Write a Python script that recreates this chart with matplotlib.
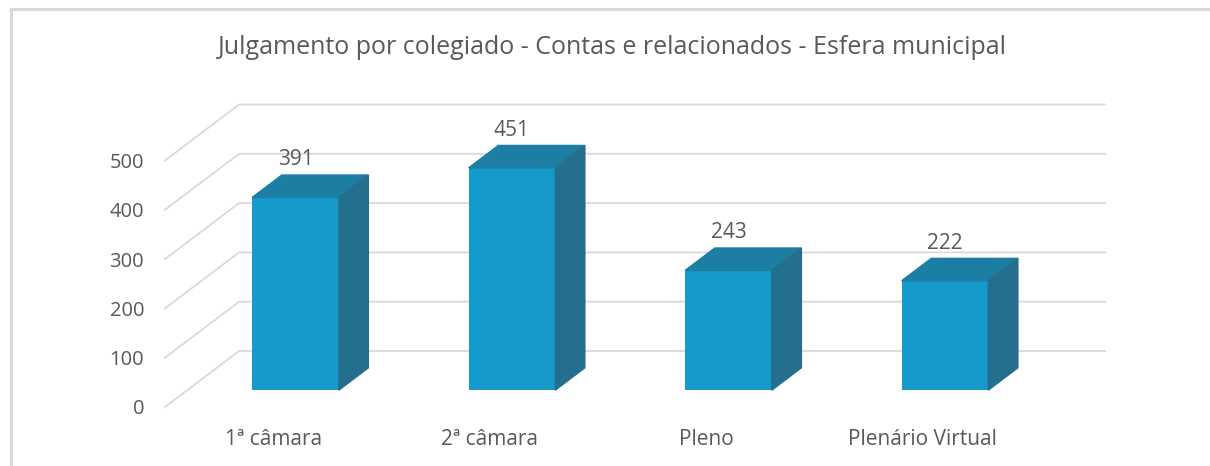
import matplotlib.pyplot as plt
from matplotlib.patches import Polygon
from matplotlib.lines import Line2D

plt.rcParams['font.family'] = ['Open Sans', 'DejaVu Sans']

categorias = ['1ª câmara', '2ª câmara', 'Pleno', 'Plenário Virtual']
valores = [391, 451, 243, 222]
yticks = [0, 100, 200, 300, 400, 500]
titulo = 'Julgamento por colegiado - Contas e relacionados - Esfera municipal'

cor_frente = '#1699cb'
cor_topo = '#1c7ea2'
cor_lado = '#246f8e'
cor_grade = '#d9d9d9'
cor_texto = '#595959'

# oblique projection: full depth of the floor in data units
DX = 0.342   # categories
DY = 113.6   # value units
d0, d1 = 0.3, 0.7   # bar depth range
larg = 0.4

W, H = 1210, 466
fig = plt.figure(figsize=(W / 100, H / 100), dpi=100)
ax = fig.add_axes([165 / W, 59 / H, 866 / W, 246.5 / H])
ax.set_xlim(0, len(categorias))
ax.set_ylim(0, 500)
for s in ax.spines.values():
    s.set_visible(False)

# side wall + back wall gridlines
for v in yticks:
    ax.plot([0, DX, len(categorias) + DX], [v, v + DY, v + DY],
            color=cor_grade, lw=1.3, clip_on=False, zorder=1)

ax.set_yticks(yticks)
ax.set_xticks([i + 0.5 for i in range(len(categorias))])
ax.set_xticklabels(categorias)
ax.tick_params(axis='y', length=0, pad=15, labelsize=14.5, labelcolor=cor_texto)
ax.tick_params(axis='x', length=0, pad=16, labelsize=15, labelcolor=cor_texto)

base = d0 * DY
ddx = (d1 - d0) * DX
ddy = (d1 - d0) * DY
xs = [i + 0.5 + d0 * DX for i in range(len(categorias))]

ax.bar(xs, valores, width=larg, bottom=base, color=cor_frente,
       clip_on=False, zorder=3)

for x, v in zip(xs, valores):
    xl, xr = x - larg / 2, x + larg / 2
    topo = v + base
    ax.add_patch(Polygon([(xl, topo), (xr, topo), (xr + ddx, topo + ddy),
                          (xl + ddx, topo + ddy)],
                         closed=True, color=cor_topo, clip_on=False, zorder=3))
    ax.add_patch(Polygon([(xr, base), (xr + ddx, base + ddy),
                          (xr + ddx, topo + ddy), (xr, topo)],
                         closed=True, color=cor_lado, clip_on=False, zorder=3))
    ax.annotate(str(v), (x, topo + ddy), xytext=(0, 11),
                textcoords='offset points', ha='center', va='center',
                fontsize=15, color=cor_texto, annotation_clip=False)

fig.text(612 / W, 1 - 48 / H, titulo, ha='center', va='center',
         fontsize=18, color=cor_texto)

# chart frame (left and top edges)
fig.add_artist(Line2D([11 / W, 11 / W], [0, 1 - 9 / H], color=cor_grade,
                      lw=2.2, transform=fig.transFigure))
fig.add_artist(Line2D([11 / W, 1], [1 - 9 / H, 1 - 9 / H], color=cor_grade,
                      lw=2.2, transform=fig.transFigure))

fig.savefig('out.png', dpi=100)
